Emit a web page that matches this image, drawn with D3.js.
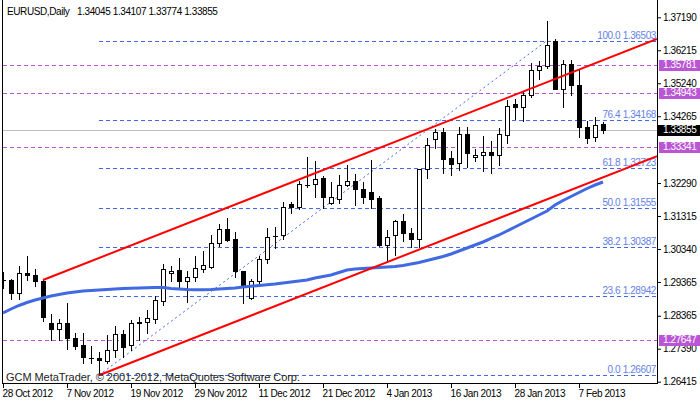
<!DOCTYPE html>
<html><head><meta charset="utf-8">
<script src="https://cdn.jsdelivr.net/npm/d3@7"></script>
<style>
html,body{margin:0;padding:0;background:#fff;}
svg{display:block;font-family:"Liberation Sans",Arial,sans-serif;font-size:10px;letter-spacing:-0.4px;}
</style></head><body>
<svg id="c" width="700" height="402"></svg>
<script>
const symbolTitle = "EURUSD,Daily";
const lastQuote = ["1.34045","1.34107","1.33774","1.33855"];
const copyrightText = "GCM MetaTrader, \u00A9 2001-2012, MetaQuotes Software Corp.";

const opens  = [1.29423,1.29423,1.29038,1.29638,1.29579,1.29402,1.28161,1.27964,1.28151,1.27698,
                1.27491,1.27116,1.27116,1.27037,1.27343,1.27826,1.27501,1.28151,1.28181,1.28278,
                1.28810,1.29638,1.29718,1.29402,1.29502,1.29757,1.29798,1.30508,1.30922,1.30626,
                1.29680,1.28890,1.29384,1.30035,1.30723,1.30744,1.31670,1.31590,1.32240,1.32261,
                1.32438,1.31708,1.31826,1.32223,1.32341,1.32104,1.32024,1.31847,1.30466,1.30744,
                1.31158,1.30803,1.30626,1.32696,1.33583,1.33799,1.33030,1.32873,1.33739,1.33050,
                1.33110,1.33207,1.33127,1.33719,1.34626,1.34529,1.34884,1.35632,1.35750,1.36480,
                1.35079,1.35809,1.35179,1.33938,1.33642,1.34045];
const highs  = [1.29659,1.29452,1.29836,1.30132,1.29739,1.29461,1.28417,1.28259,1.28742,1.27846,
                1.27865,1.27471,1.27294,1.27786,1.28062,1.27944,1.28240,1.28328,1.28535,1.28949,
                1.29896,1.29836,1.30073,1.29689,1.30132,1.30289,1.30744,1.31078,1.31256,1.30842,
                1.29689,1.29461,1.30132,1.30960,1.30981,1.31729,1.31729,1.32359,1.33068,1.32932,
                1.32498,1.32320,1.32518,1.32814,1.32557,1.32320,1.32971,1.31906,1.30901,1.31197,
                1.31374,1.30960,1.32696,1.33621,1.33896,1.33917,1.33228,1.33938,1.33938,1.33287,
                1.33680,1.33524,1.33917,1.34745,1.34765,1.35002,1.35848,1.35907,1.37089,1.36557,
                1.35927,1.35927,1.35632,1.34115,1.34233,1.34107];
const lows   = [1.29186,1.28861,1.28861,1.29423,1.29245,1.28200,1.27648,1.27648,1.27382,1.27373,
                1.26977,1.26968,1.26607,1.26977,1.27156,1.27136,1.27353,1.27648,1.27846,1.28151,
                1.28683,1.29402,1.29224,1.28772,1.29402,1.29659,1.29777,1.30428,1.30584,1.29502,
                1.28751,1.28870,1.29284,1.29934,1.30369,1.30644,1.31412,1.31531,1.32181,1.31868,
                1.31551,1.31670,1.31690,1.32202,1.31631,1.31690,1.31551,1.30428,1.29993,1.30153,
                1.30567,1.30389,1.30389,1.32438,1.33325,1.32595,1.32536,1.32675,1.32773,1.32950,
                1.32637,1.32595,1.32832,1.33464,1.34192,1.34115,1.34825,1.35375,1.35691,1.35060,
                1.34547,1.34884,1.33660,1.33482,1.33524,1.33774];
const closes = [1.29423,1.29038,1.29629,1.29560,1.29402,1.28337,1.27964,1.28141,1.27708,1.27471,
                1.27136,1.27126,1.27057,1.27353,1.27826,1.27432,1.28141,1.28181,1.28299,1.28831,
                1.29739,1.29697,1.29402,1.29502,1.29777,1.29857,1.30508,1.30922,1.30605,1.29680,
                1.29245,1.29384,1.30035,1.30703,1.30713,1.31590,1.31590,1.32261,1.32245,1.32418,
                1.31868,1.31868,1.32223,1.32341,1.32122,1.31886,1.31826,1.30448,1.30685,1.31158,
                1.30803,1.30626,1.32696,1.33405,1.33799,1.33009,1.32852,1.33739,1.33169,1.33110,
                1.33207,1.33127,1.33739,1.34567,1.34529,1.34901,1.35632,1.35750,1.36380,1.35079,
                1.35809,1.35179,1.33938,1.33621,1.34014,1.33855];
const maValues = [1.28447,1.28565,1.28669,1.28757,1.28831,1.28890,1.28949,1.28994,1.29038,1.29068,
                  1.29097,1.29112,1.29127,1.29142,1.29156,1.29171,1.29177,1.29186,1.29192,1.29201,
                  1.29201,1.29171,1.29156,1.29142,1.29136,1.29136,1.29142,1.29156,1.29171,1.29186,
                  1.29216,1.29236,1.29260,1.29284,1.29304,1.29334,1.29363,1.29393,1.29423,1.29482,
                  1.29526,1.29570,1.29644,1.29718,1.29748,1.29762,1.29777,1.29792,1.29807,1.29822,
                  1.29851,1.29896,1.29940,1.29999,1.30058,1.30117,1.30191,1.30280,1.30369,1.30457,
                  1.30546,1.30650,1.30753,1.30871,1.30990,1.31108,1.31226,1.31344,1.31463,1.31640,
                  1.31773,1.31891,1.32010,1.32128,1.32231,1.32320];

const dateTickBars = [0,8,16,24,32,40,48,56,64,72];
const dateTickLabels = ["28 Oct 2012","7 Nov 2012","19 Nov 2012","29 Nov 2012","11 Dec 2012",
                        "21 Dec 2012","4 Jan 2013","16 Jan 2013","28 Jan 2013","7 Feb 2013"];
const priceTicks = [1.37190,1.36215,1.35240,1.34265,1.32290,1.31315,1.30340,1.29365,1.28365,1.27390,1.26415];

const fibLevels = ["0.0","23.6","38.2","50.0","61.8","76.4","100.0"];
const fibPrices = [1.26607,1.28942,1.30387,1.31555,1.32723,1.34168,1.36503];
const fibAnchorBars = [12, 68];
const hLinePrices = [1.35781,1.34943,1.33341,1.27647];
const bidPrice = 1.33855;
const channelUpper = [[5,1.29423],[68,1.35271]];
const channelLower = [[12,1.26607],[68,1.31806]];

const W = 700, H = 402;
const L = 3, R = 657, T = 0, B = 383;
const lastSlot = 81.75;
const x = d3.scaleLinear().domain([0, lastSlot]).range([L, R]);
const y = d3.scaleLinear().domain([1.26415, 1.37190]).range([381.7, 17.3]);

const svg = d3.select("#c");
svg.append("defs").append("clipPath").attr("id","plot")
  .append("rect").attr("x",L).attr("y",T).attr("width",R-L).attr("height",B-T);
const plot = svg.append("g").attr("clip-path","url(#plot)");

const PURPLE = "#ba55d3", BLUE = "#4169e1", FIBTXT = "#6482e6";

// bid line
plot.append("line").attr("x1",L).attr("x2",R)
  .attr("y1",Math.round(y(bidPrice))+0.5).attr("y2",Math.round(y(bidPrice))+0.5)
  .attr("stroke","#c0c0c0").attr("stroke-width",1);

// purple horizontal lines
plot.selectAll(".hl").data(hLinePrices).join("line")
  .attr("x1",L).attr("x2",R)
  .attr("y1",d=>Math.round(y(d))+0.5).attr("y2",d=>Math.round(y(d))+0.5)
  .attr("stroke",PURPLE).attr("stroke-width",1).attr("stroke-dasharray","4,3");

// fib lines
plot.selectAll(".fl").data(fibPrices).join("line")
  .attr("x1",Math.round(x(fibAnchorBars[0]))).attr("x2",R)
  .attr("y1",d=>Math.round(y(d))+0.5).attr("y2",d=>Math.round(y(d))+0.5)
  .attr("stroke",BLUE).attr("stroke-width",1).attr("stroke-dasharray","4,3");
plot.append("line")
  .attr("x1",x(fibAnchorBars[0])).attr("y1",y(fibPrices[0]))
  .attr("x2",x(fibAnchorBars[1])).attr("y2",y(fibPrices[fibPrices.length-1]))
  .attr("stroke",BLUE).attr("stroke-width",1).attr("stroke-dasharray","2,3");
plot.selectAll(".ft").data(fibPrices).join("text")
  .attr("x",656).attr("y",d=>Math.round(y(d))-2)
  .attr("text-anchor","end").attr("fill",FIBTXT)
  .text((d,i)=>fibLevels[i]+" "+d.toFixed(5));

// candles
const bars = opens.map((o,i)=>({i,o,h:highs[i],l:lows[i],c:closes[i]}));
const cg = plot.append("g").attr("shape-rendering","crispEdges");
bars.forEach(b=>{
  const cx = Math.round(x(b.i));
  const yh = Math.round(y(b.h)), yl = Math.round(y(b.l));
  const yt = Math.round(y(Math.max(b.o,b.c))), yb = Math.round(y(Math.min(b.o,b.c)));
  cg.append("line").attr("x1",cx+0.5).attr("x2",cx+0.5).attr("y1",yh).attr("y2",yl+1)
    .attr("stroke","#000");
  if (yb - yt < 1) {
    cg.append("line").attr("x1",cx-2).attr("x2",cx+3).attr("y1",yt+0.5).attr("y2",yt+0.5).attr("stroke","#000");
  } else if (b.c >= b.o) {
    cg.append("rect").attr("x",cx-1.5).attr("y",yt+0.5).attr("width",4).attr("height",yb-yt)
      .attr("fill","#fff").attr("stroke","#000");
  } else {
    cg.append("rect").attr("x",cx-2).attr("y",yt).attr("width",5).attr("height",yb-yt+1)
      .attr("fill","#000");
  }
});

// moving average
plot.append("path").datum(maValues)
  .attr("d", d3.line().x((d,i)=>x(i)).y(d=>y(d)))
  .attr("fill","none").attr("stroke",BLUE).attr("stroke-width",3);

// channel lines
function ray(a){
  const slope = (a[1][1]-a[0][1])/(a[1][0]-a[0][0]);
  return [[a[0][0],a[0][1]],[lastSlot, a[0][1]+slope*(lastSlot-a[0][0])]];
}
[channelUpper, channelLower].forEach(ch=>{
  const p = ray(ch);
  plot.append("line").attr("x1",x(p[0][0])).attr("y1",y(p[0][1]))
    .attr("x2",x(p[1][0])).attr("y2",y(p[1][1]))
    .attr("stroke","#ff0000").attr("stroke-width",2);
});

// copyright
svg.append("text").attr("x",6).attr("y",381).attr("fill","#222")
  .style("font-size","11px").style("letter-spacing","0px")
  .attr("textLength",294).attr("lengthAdjust","spacing").text(copyrightText);

// header
svg.append("text").attr("x",7).attr("y",15).attr("fill","#000").text(symbolTitle);
svg.append("text").attr("x",77).attr("y",15).attr("fill","#000").text(lastQuote.join(" "));

// frame
svg.append("line").attr("x1",2.5).attr("x2",2.5).attr("y1",0).attr("y2",B+1).attr("stroke","#000");
svg.append("line").attr("x1",2).attr("x2",R+1).attr("y1",B+0.5).attr("y2",B+0.5).attr("stroke","#000");
svg.append("line").attr("x1",R+0.5).attr("x2",R+0.5).attr("y1",0).attr("y2",B+1).attr("stroke","#000");

// right axis
const ya = svg.append("g").attr("transform",`translate(${R},0)`)
  .call(d3.axisRight(y).tickValues(priceTicks).tickFormat(d3.format(".5f")).tickSize(4).tickPadding(2));
ya.attr("font-family",null).attr("font-size",null);
ya.select(".domain").remove();
ya.selectAll("text").attr("fill","#000");

// bottom axis
const xa = svg.append("g").attr("transform",`translate(0,${B})`)
  .call(d3.axisBottom(x).tickValues(dateTickBars).tickFormat((d,i)=>dateTickLabels[i]).tickSize(5).tickPadding(2));
xa.attr("font-family",null).attr("font-size",null);
xa.select(".domain").remove();
xa.selectAll("text").attr("text-anchor","start").attr("dx",-1).attr("fill","#000");

// price labels
const labels = hLinePrices.map(p=>({p,bg:PURPLE,x0:R+2})).concat([{p:bidPrice,bg:"#000",x0:R}]);
const lg = svg.append("g");
labels.forEach(l=>{
  const yc = Math.round(y(l.p));
  lg.append("rect").attr("x",l.x0).attr("y",yc-5).attr("width",W-l.x0).attr("height",11).attr("fill",l.bg);
  lg.append("text").attr("x",663).attr("y",yc).attr("dy","0.32em").attr("fill","#fff").text(l.p.toFixed(5));
});
</script>
</body></html>
